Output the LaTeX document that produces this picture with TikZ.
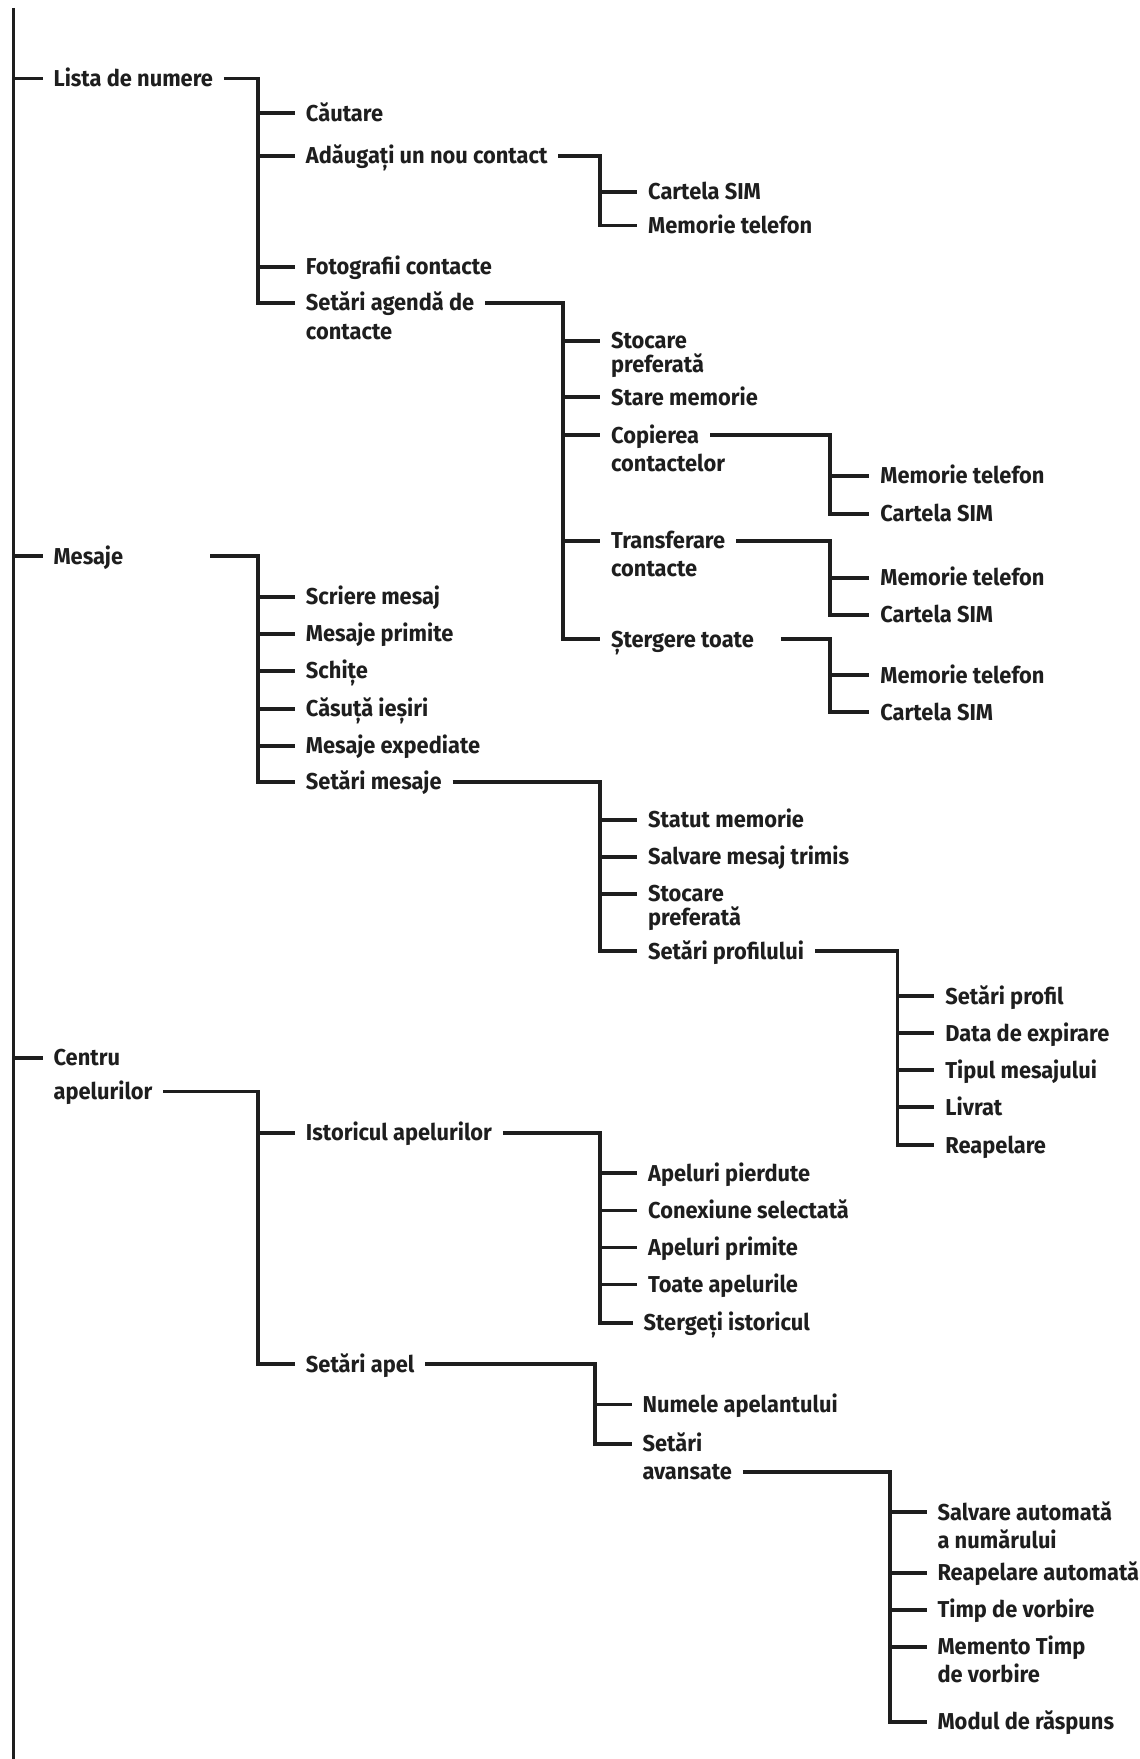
\documentclass[tikz,border=0pt]{standalone}
\usepackage{fontspec}
\setmainfont{Fira Sans}[FakeStretch=0.95]
\definecolor{ink}{HTML}{1E1E1E}

\begin{document}
\begin{tikzpicture}[
x=0.561pt, y=-0.561pt,
color=ink,
line width=1.95pt,
every node/.style={
anchor=west,
inner xsep=4.5pt,
inner ysep=0pt,
text height=7.9pt,
text depth=0pt,
font=\bfseries\fontsize{11.5}{14}\selectfont
}
]
\useasboundingbox (0,0) rectangle (1016,1568);

% main line
\coordinate (top) at (12,7);
\coordinate (bot) at (12,1568);
\draw (top) -- (bot);

\node (L) at (38,70) {Lista de numere};
\node (M) at (38,496) {Mesaje};
\node (C) at (38,943) {Centru};
\node (C2) at (38,973) {apelurilor};

\foreach \n in {L,M,C} \draw (top |- \n.west) -- (\n.west);

% Lista de numere
\node (Ca) at (263,101) {Căutare};
\node (Ad) at (263,139) {Adăugați un nou contact};
\node (Fo) at (263,238) {Fotografii contacte};
\node (Sa) at (263,270) {Setări agendă de};
\node (Sa2) at (263,296) {contacte};

\coordinate (bL) at (230,0);
\draw (L.east) -| (bL |- Sa.west) -- (Sa.west);
\foreach \n in {Ca,Ad,Fo} \draw (bL |- \n.west) -- (\n.west);

\node (AdS) at (568,171) {Cartela SIM};
\node (AdM) at (568,201) {Memorie telefon};

\coordinate (bAd) at (535,0);
\draw (Ad.east) -| (bAd |- AdM.west) -- (AdM.west);
\draw (bAd |- AdS.west) -- (AdS.west);

\node (St) at (535,304) {Stocare};
\node (St2) at (535,325) {preferată};
\node (Sm) at (535,354) {Stare memorie};
\node (Co) at (535,388) {Copierea};
\node (Co2) at (535,413) {contactelor};
\node (Tr) at (535,482) {Transferare};
\node (Tr2) at (535,507) {contacte};
\node (Sg) at (535,570) {Ștergere toate};

\coordinate (bSa) at (502,0);
\draw (Sa.east) -| (bSa |- Sg.west) -- (Sg.west);
\foreach \n in {St,Sm,Co,Tr} \draw (bSa |- \n.west) -- (\n.west);

\node (CoM) at (775,424) {Memorie telefon};
\node (CoS) at (775,458) {Cartela SIM};
\node (TrM) at (775,515) {Memorie telefon};
\node (TrS) at (775,548) {Cartela SIM};
\node (SgM) at (775,602) {Memorie telefon};
\node (SgS) at (775,635) {Cartela SIM};

\coordinate (bCo) at (740,0);
\draw (Co.east) -| (bCo |- CoS.west) -- (CoS.west);
\draw (bCo |- CoM.west) -- (CoM.west);
\draw (Tr.east) -| (bCo |- TrS.west) -- (TrS.west);
\draw (bCo |- TrM.west) -- (TrM.west);
\draw ([xshift=8pt]Sg.east) -| (bCo |- SgS.west) -- (SgS.west);
\draw (bCo |- SgM.west) -- (SgM.west);

% Mesaje
\node (Sc) at (263,532) {Scriere mesaj};
\node (Mp) at (263,565) {Mesaje primite};
\node (Sh) at (263,598) {Schițe};
\node (Ci) at (263,632) {Căsuță ieșiri};
\node (Me) at (263,665) {Mesaje expediate};
\node (Ss) at (263,697) {Setări mesaje};

\coordinate (bM) at (230,0);
\draw ([xshift=38pt]M.east) -| (bM |- Ss.west) -- (Ss.west);
\foreach \n in {Sc,Mp,Sh,Ci,Me} \draw (bM |- \n.west) -- (\n.west);

\node (Su) at (568,731) {Statut memorie};
\node (Sv) at (568,764) {Salvare mesaj trimis};
\node (Sp) at (568,797) {Stocare};
\node (Sp2) at (568,818) {preferată};
\node (Pf) at (568,848) {Setări profilului};

\coordinate (bSs) at (535,0);
\draw (Ss.east) -| (bSs |- Pf.west) -- (Pf.west);
\foreach \n in {Su,Sv,Sp} \draw (bSs |- \n.west) -- (\n.west);

\node (P1) at (833,888) {Setări profil};
\node (P2) at (833,921) {Data de expirare};
\node (P3) at (833,954) {Tipul mesajului};
\node (P4) at (833,987) {Livrat};
\node (P5) at (833,1021) {Reapelare};

\coordinate (bPf) at (800,0);
\draw (Pf.east) -| (bPf |- P5.west) -- (P5.west);
\foreach \n in {P1,P2,P3,P4} \draw (bPf |- \n.west) -- (\n.west);

% Centru apelurilor
\node (Is) at (263,1010) {Istoricul apelurilor};
\node (Sl) at (263,1216) {Setări apel};

\coordinate (bC) at (230,0);
\draw (C2.east) -| (bC |- Sl.west) -- (Sl.west);
\draw (bC |- Is.west) -- (Is.west);

\node (I1) at (568,1046) {Apeluri pierdute};
\node (I2) at (568,1079) {Conexiune selectată};
\node (I3) at (568,1112) {Apeluri primite};
\node (I4) at (568,1145) {Toate apelurile};
\node (I5) at (564,1179) {Stergeți istoricul};

\coordinate (bIs) at (535,0);
\draw (Is.east) -| (bIs |- I5.west) -- (I5.west);
\foreach \n in {I1,I2,I3,I4} \draw (bIs |- \n.west) -- (\n.west);

\node (Na) at (563,1252) {Numele apelantului};
\node (Av) at (563,1287) {Setări};
\node (Av2) at (563,1312) {avansate};

\coordinate (bSl) at (530,0);
\draw (Sl.east) -| (bSl |- Av.west) -- (Av.west);
\draw (bSl |- Na.west) -- (Na.west);

\node (A1) at (826,1348) {Salvare automată};
\node (A1b) at (826,1373) {a numărului};
\node (A2) at (826,1402) {Reapelare automată};
\node (A3) at (826,1435) {Timp de vorbire};
\node (A4) at (826,1468) {Memento Timp};
\node (A4b) at (826,1493) {de vorbire};
\node (A5) at (826,1535) {Modul de răspuns};

\coordinate (bAv) at (793,0);
\draw (Av2.east) -| (bAv |- A5.west) -- (A5.west);
\foreach \n in {A1,A2,A3,A4} \draw (bAv |- \n.west) -- (\n.west);

\end{tikzpicture}
\end{document}
